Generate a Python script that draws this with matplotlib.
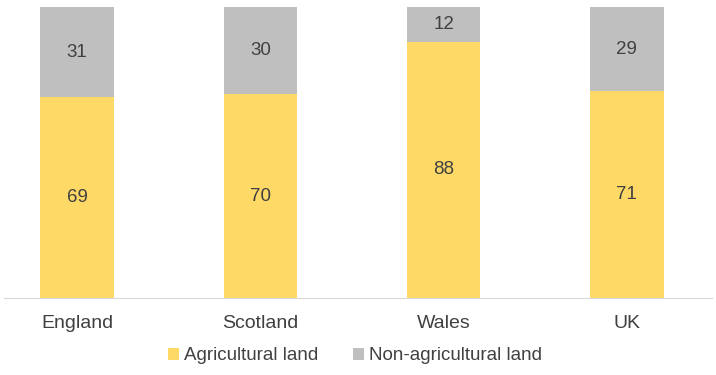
import numpy as np
import matplotlib.pyplot as plt

plt.rcParams['font.family'] = ['Liberation Sans', 'DejaVu Sans']

regions = ['England', 'Scotland', 'Wales', 'UK']
agricultural = [69, 70, 88, 71]
non_agricultural = [31, 30, 12, 29]

yellow = '#FFD966'
grey = '#BFBFBF'
text_col = '#404040'

fig = plt.figure(figsize=(7.16, 3.75), dpi=100)
ax = fig.add_axes([4 / 716, 1 - 298 / 375, 708 / 716, 291 / 375])

x = np.arange(len(regions))
width = 0.4
b1 = ax.bar(x, agricultural, width, color=yellow, label='Agricultural land')
b2 = ax.bar(x, non_agricultural, width, bottom=agricultural, color=grey,
            label='Non-agricultural land')

for i in range(len(regions)):
    ax.text(x[i], agricultural[i] / 2, str(agricultural[i]), ha='center',
            va='center', fontsize=13.5, color=text_col)
    ax.text(x[i], agricultural[i] + non_agricultural[i] / 2,
            str(non_agricultural[i]), ha='center', va='center',
            fontsize=13.5, color=text_col)

ax.set_xlim(-0.398, 3.464)
ax.set_ylim(0, 100)
ax.set_yticks([])
ax.set_xticks(x)
ax.set_xticklabels(regions, fontsize=14, color=text_col)
ax.tick_params(axis='x', length=0, pad=12)
for s in ['top', 'right', 'left']:
    ax.spines[s].set_visible(False)
ax.spines['bottom'].set_color('#D9D9D9')

fig.legend(handles=[b1, b2], loc='center', bbox_to_anchor=(355 / 716, 1 - 356 / 375),
           ncol=2, frameon=False, fontsize=13.5, handlelength=0.6, handleheight=0.6,
           handletextpad=0.3, columnspacing=1.8, labelcolor=text_col)

fig.savefig('out.png', dpi=100)
